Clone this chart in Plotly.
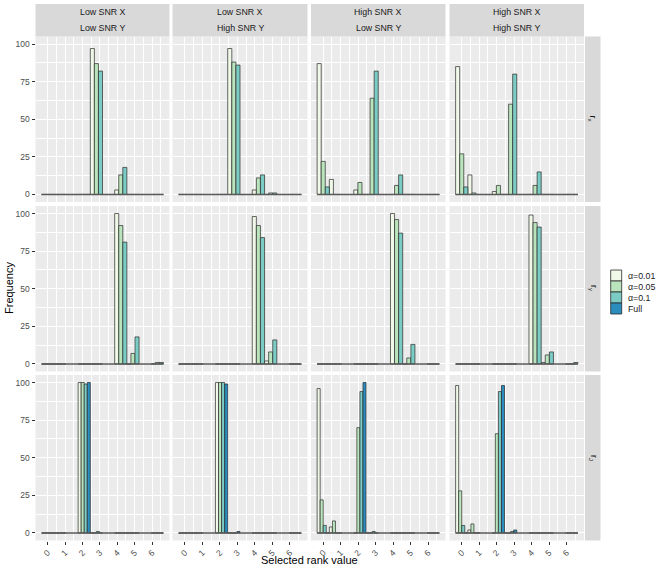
import plotly.graph_objects as go

# selected rank values and histogram bin width used for the counts
ranks = [0, 1, 2, 3, 4, 5, 6]
bin_w = 0.7

snr_x = ["Low SNR X", "Low SNR X", "High SNR X", "High SNR X"]
snr_y = ["Low SNR Y", "High SNR Y", "Low SNR Y", "High SNR Y"]
row_labels = ["r<sub>x</sub>", "r<sub>y</sub>", "r<sub>J</sub>"]
methods = ["α=0.01", "α=0.05", "α=0.1", "Full"]
colors = ["#F0F9E8", "#BAE4BC", "#7BCCC4", "#2B8CBE"]

# frequency (out of 100 runs) for each rank 0..6, one list per SNR column
rx_a01 = [[0, 0, 0, 97, 3, 0, 0], [0, 0, 0, 97, 3, 0, 0],
          [87, 10, 3, 0, 0, 0, 0], [85, 13, 2, 0, 0, 0, 0]]
rx_a05 = [[0, 0, 0, 87, 13, 0, 0], [0, 0, 0, 88, 11, 1, 0],
          [22, 0, 8, 64, 6, 0, 0], [27, 1, 6, 60, 6, 0, 0]]
rx_a10 = [[0, 0, 0, 82, 18, 0, 0], [0, 0, 0, 86, 13, 1, 0],
          [5, 0, 0, 82, 13, 0, 0], [5, 0, 0, 80, 15, 0, 0]]

ry_a01 = [[0, 0, 0, 0, 100, 0, 0], [0, 0, 0, 0, 98, 2, 0],
          [0, 0, 0, 0, 100, 0, 0], [0, 0, 0, 0, 99, 1, 0]]
ry_a05 = [[0, 0, 0, 0, 92, 7, 1], [0, 0, 0, 0, 92, 8, 0],
          [0, 0, 0, 0, 96, 4, 0], [0, 0, 0, 0, 94, 6, 0]]
ry_a10 = [[0, 0, 0, 0, 81, 18, 1], [0, 0, 0, 0, 84, 16, 0],
          [0, 0, 0, 0, 87, 13, 0], [0, 0, 0, 0, 91, 8, 1]]

rj_a01 = [[0, 0, 100, 0, 0, 0, 0], [0, 0, 100, 0, 0, 0, 0],
          [96, 4, 0, 0, 0, 0, 0], [98, 2, 0, 0, 0, 0, 0]]
rj_a05 = [[0, 0, 100, 0, 0, 0, 0], [0, 0, 100, 0, 0, 0, 0],
          [22, 8, 70, 0, 0, 0, 0], [28, 6, 66, 0, 0, 0, 0]]
rj_a10 = [[0, 0, 99, 1, 0, 0, 0], [0, 0, 100, 0, 0, 0, 0],
          [5, 0, 94, 1, 0, 0, 0], [5, 0, 94, 1, 0, 0, 0]]
rj_full = [[0, 0, 100, 0, 0, 0, 0], [0, 0, 99, 1, 0, 0, 0],
           [0, 0, 100, 0, 0, 0, 0], [0, 0, 98, 2, 0, 0, 0]]

rows = [[rx_a01, rx_a05, rx_a10],
        [ry_a01, ry_a05, ry_a10],
        [rj_a01, rj_a05, rj_a10, rj_full]]

# bin centres like ggplot's stat_bin
xs = [round(r / bin_w) * bin_w for r in ranks]

W, H = 664, 570
col_px = [(35.5, 169.5), (172.5, 307.5), (311.0, 445.5), (449.5, 584.0)]
row_px = [(36.5, 202.0), (206.0, 371.5), (375.0, 540.5)]
FONT = "Liberation Sans"


def px_x(p):
    return p / W


def px_y(p):
    return 1 - p / H


fig = go.Figure()
layout = {}
shapes = []
annotations = []

for i in range(3):
    for j in range(4):
        k = i * 4 + j + 1
        sfx = "" if k == 1 else str(k)
        xref, yref = "x" + sfx, "y" + sfx

        # zero-count bins show as a flat outline along the bottom
        fig.add_trace(go.Scatter(
            x=[min(xs) - bin_w / 2, max(xs) + bin_w / 2], y=[0, 0],
            mode="lines", line=dict(color="#595959", width=1.6),
            xaxis=xref, yaxis=yref, showlegend=False, hoverinfo="skip"))

        groups = rows[i]
        n = len(groups)
        for g, series in enumerate(groups):
            fig.add_trace(go.Bar(
                x=xs, y=series[j],
                width=bin_w / n, offset=-bin_w / 2 + g * bin_w / n,
                marker=dict(color=colors[g], line=dict(color="#2a2a2a", width=0.7)),
                name=methods[g], xaxis=xref, yaxis=yref, showlegend=False))

        bottom = i == 2
        left = j == 0
        layout["xaxis" + sfx] = dict(
            domain=[px_x(col_px[j][0]), px_x(col_px[j][1])], anchor=yref,
            range=[-0.7, 7.0], tickmode="array", tickvals=ranks,
            showgrid=True, gridcolor="white", gridwidth=1.1, zeroline=False,
            minor=dict(tickvals=[r + 0.5 for r in ranks], showgrid=True,
                       gridcolor="white", gridwidth=0.5),
            showticklabels=bottom, ticks="outside" if bottom else "",
            ticklen=3, tickcolor="#333333", tickangle=-45,
            tickfont=dict(family=FONT, size=8.5, color="#4D4D4D"),
            showline=False, fixedrange=True)
        layout["yaxis" + sfx] = dict(
            domain=[px_y(row_px[i][1]), px_y(row_px[i][0])], anchor=xref,
            range=[-5, 105], tickmode="array", tickvals=[0, 25, 50, 75, 100],
            showgrid=True, gridcolor="white", gridwidth=1.1, zeroline=False,
            minor=dict(tickvals=[12.5, 37.5, 62.5, 87.5], showgrid=True,
                       gridcolor="white", gridwidth=0.5),
            showticklabels=left, ticks="outside" if left else "",
            ticklen=3, tickcolor="#333333",
            tickfont=dict(family=FONT, size=8.5, color="#4D4D4D"),
            showline=False, fixedrange=True)

# column strips
for j in range(4):
    shapes.append(dict(type="rect", xref="paper", yref="paper",
                       x0=px_x(col_px[j][0]), x1=px_x(col_px[j][1]),
                       y0=px_y(36.5), y1=px_y(4), fillcolor="#D9D9D9",
                       line=dict(width=0), layer="below"))
    cx = px_x((col_px[j][0] + col_px[j][1]) / 2)
    for txt, yy in [(snr_x[j], 12.5), (snr_y[j], 28.3)]:
        annotations.append(dict(text=txt, x=cx, y=px_y(yy), xref="paper", yref="paper",
                                showarrow=False, xanchor="center", yanchor="middle",
                                font=dict(family=FONT, size=8.8, color="#1A1A1A")))

# row strips
for i in range(3):
    shapes.append(dict(type="rect", xref="paper", yref="paper",
                       x0=px_x(585), x1=px_x(600.5),
                       y0=px_y(row_px[i][1]), y1=px_y(row_px[i][0]),
                       fillcolor="#D9D9D9", line=dict(width=0), layer="below"))
    annotations.append(dict(text=row_labels[i], x=px_x(592.8),
                            y=px_y((row_px[i][0] + row_px[i][1]) / 2),
                            xref="paper", yref="paper", showarrow=False, textangle=90,
                            xanchor="center", yanchor="middle",
                            font=dict(family=FONT, size=8.8, color="#1A1A1A")))

# legend
for g, m in enumerate(methods):
    y0 = 270 + g * 11
    shapes.append(dict(type="rect", xref="paper", yref="paper",
                       x0=px_x(610.7), x1=px_x(621.7), y0=px_y(y0 + 11), y1=px_y(y0),
                       fillcolor=colors[g], line=dict(color="#2a2a2a", width=0.8)))
    annotations.append(dict(text=m, x=px_x(626), y=px_y(y0 + 5.5), xref="paper", yref="paper",
                            showarrow=False, xanchor="left", yanchor="middle",
                            font=dict(family=FONT, size=8.8, color="#1A1A1A")))

# axis titles
annotations.append(dict(text="Frequency", x=px_x(8.5), y=px_y(288.5), xref="paper",
                        yref="paper", showarrow=False, textangle=-90,
                        xanchor="center", yanchor="middle",
                        font=dict(family=FONT, size=11, color="black")))
annotations.append(dict(text="Selected rank value", x=px_x(309.8), y=px_y(560),
                        xref="paper", yref="paper", showarrow=False,
                        xanchor="center", yanchor="middle",
                        font=dict(family=FONT, size=11, color="black")))

fig.update_layout(
    width=W, height=H,
    margin=dict(l=0, r=0, t=0, b=0),
    paper_bgcolor="white", plot_bgcolor="#EBEBEB",
    barmode="overlay", showlegend=False,
    shapes=shapes, annotations=annotations,
    font=dict(family=FONT),
    **layout)

# drop the default page margin so the 664x570 figure fills the window
fig.write_html("out.html", config={"displayModeBar": False},
               post_script="document.body.style.margin='0';")
